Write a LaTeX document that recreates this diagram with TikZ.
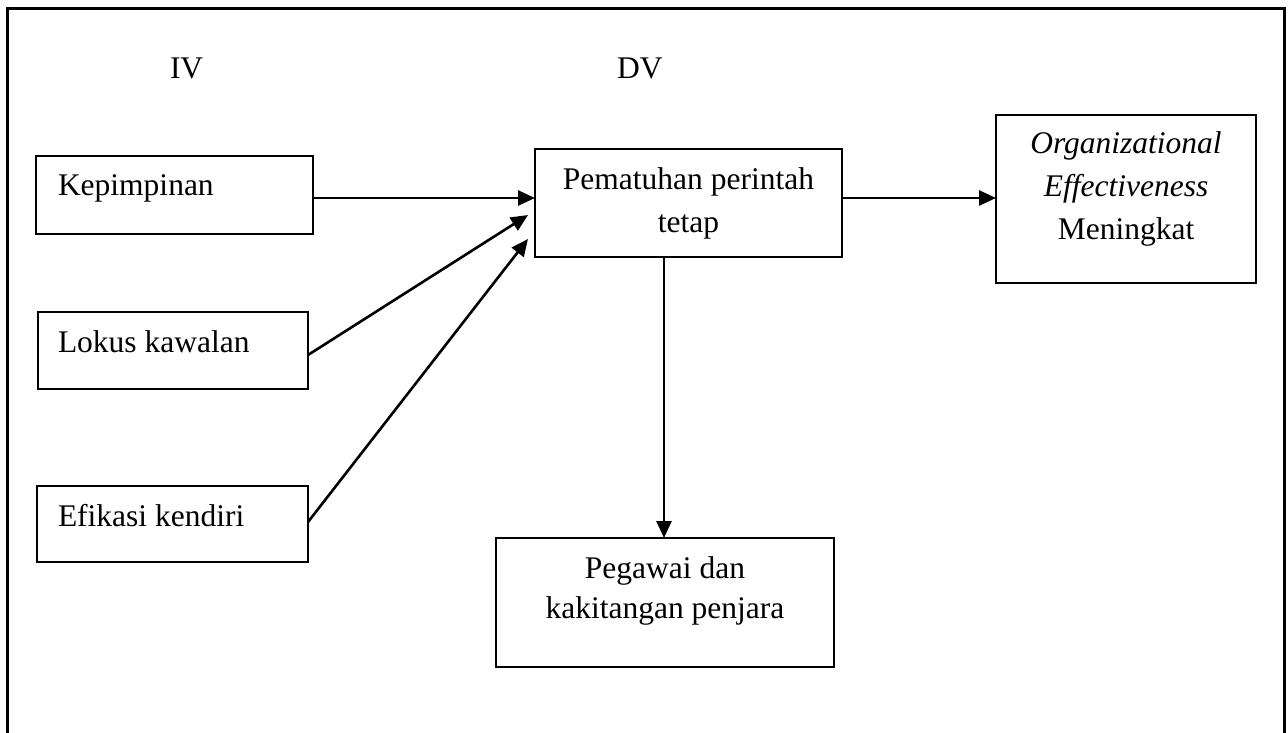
\documentclass[tikz,border=0pt]{standalone}
\usepackage{fontspec}
\setmainfont{Liberation Serif}
\usetikzlibrary{arrows.meta}
\begin{document}
\begin{tikzpicture}[x=1pt,y=-1pt,
  box/.style={draw,line width=2.3pt,inner sep=0pt,outer sep=0pt,rectangle},
  txt/.style={inner sep=0pt,outer sep=0pt,font=\fontsize{31.5}{43}\selectfont},
  arr/.style={line width=2.6pt,-{Triangle[length=17pt,width=15pt]}}]
\useasboundingbox (0,0) rectangle (1288,732);
% outer frame (open at the bottom)
\draw[line width=3pt] (7.5,733) -- (7.5,8) -- (1284,8) -- (1284,733);
% headings
\node[txt,anchor=base west] (iv) at (170,78) {IV};
\node[txt,anchor=base west] (dv) at (617,78) {DV};
% boxes
\node[box,minimum width=277pt,minimum height=78pt] (kep) at (174.5,195) {};
\node[box,minimum width=270pt,minimum height=77pt] (lok) at (173,350.5) {};
\node[box,minimum width=271pt,minimum height=76pt] (efi) at (172.5,524) {};
\node[box,minimum width=307pt,minimum height=108pt] (pem) at (688.5,203) {};
\node[box,minimum width=260pt,minimum height=168pt] (org) at (1126,199) {};
\node[box,minimum width=338pt,minimum height=129pt] (peg) at (665,602.5) {};
% texts
\node[txt,anchor=base west] (kept) at (58,195) {Kepimpinan};
\node[txt,anchor=base west] (lokt) at (58,352) {Lokus kawalan};
\node[txt,anchor=base west] (efit) at (58,526) {Efikasi kendiri};
\node[txt,anchor=base] (pemt1) at (688.5,189) {Pematuhan perintah};
\node[txt,anchor=base] (pemt2) at (688.5,232) {tetap};
\node[txt,anchor=base] (orgt1) at (1126,153) {\itshape Organizational};
\node[txt,anchor=base] (orgt2) at (1126,196) {\itshape Effectiveness};
\node[txt,anchor=base] (orgt3) at (1126,239) {Meningkat};
\node[txt,anchor=base] (pegt1) at (665,578) {Pegawai dan};
\node[txt,anchor=base] (pegt2) at (665,618) {kakitangan penjara};
% arrow end points near the Pematuhan box
\coordinate (in2) at (528,215);
\coordinate (in3) at (528,239);
% connectors
\draw[arr] ([yshift=-3pt]kep.east) -- ([yshift=5pt]pem.west);
\draw[arr] ([yshift=-4.5pt]lok.east) -- (in2);
\draw[arr] ([yshift=2pt]efi.east) -- (in3);
\draw[arr] ([yshift=5pt]pem.east) -- ([yshift=1pt]org.west);
\draw[arr] ([xshift=-24.5pt]pem.south) -- ([xshift=-1pt]peg.north);
\end{tikzpicture}
\end{document}
